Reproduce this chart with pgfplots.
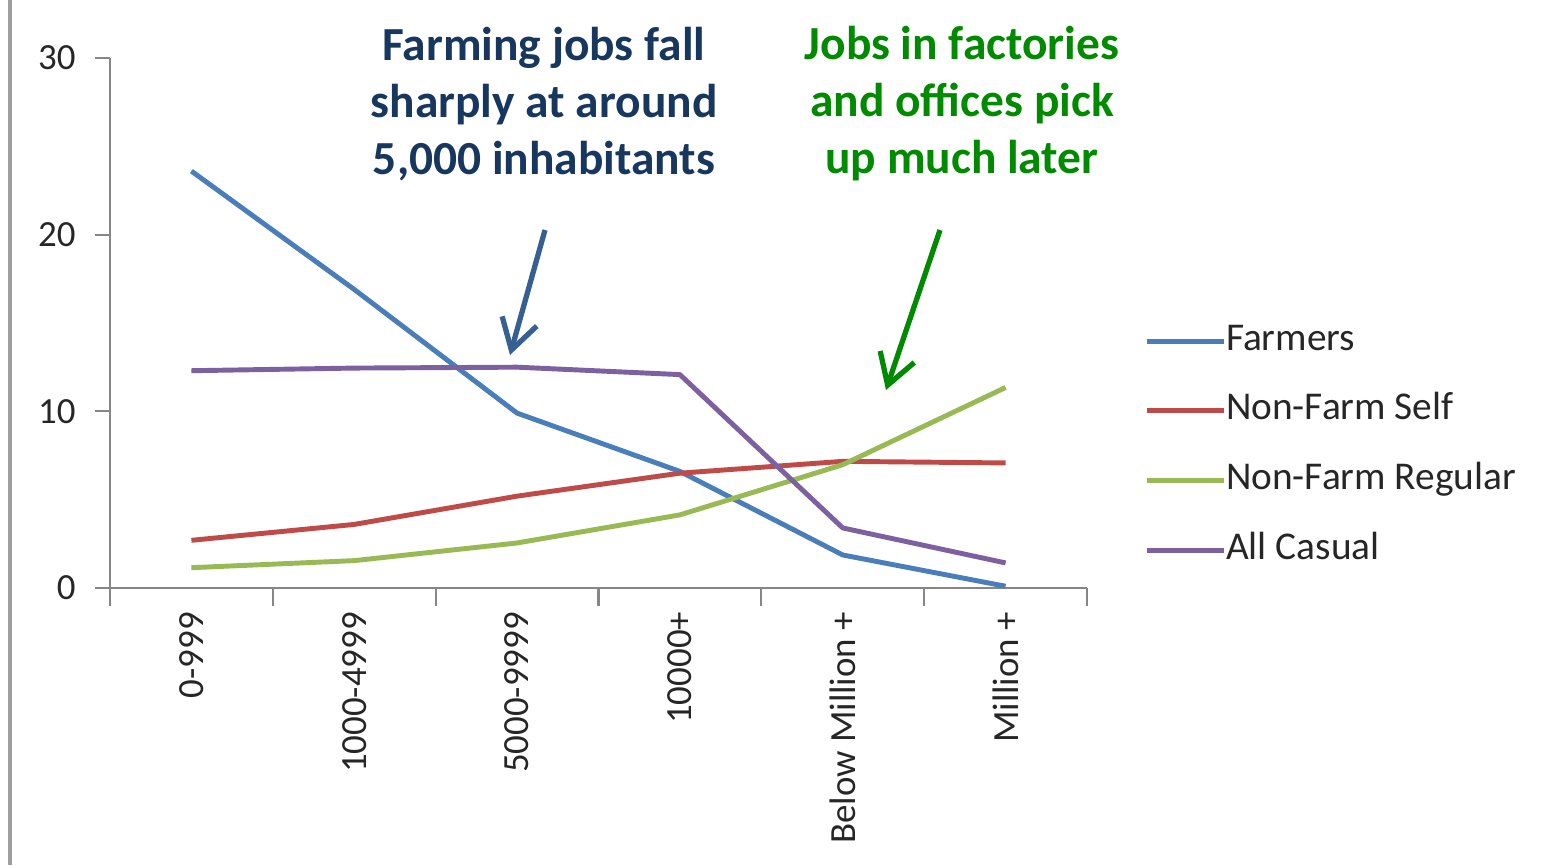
\documentclass[border=0pt]{standalone}
\usepackage{pgfplots}
\pgfplotsset{compat=1.18}
\usepackage{fontspec}
\setmainfont{Carlito}
\usetikzlibrary{arrows.meta}

\definecolor{farmers}{HTML}{4A7EBB}
\definecolor{nfself}{HTML}{BE4B48}
\definecolor{nfreg}{HTML}{98B954}
\definecolor{casual}{HTML}{7D60A0}
\definecolor{navytext}{HTML}{17375E}
\definecolor{arrowblue}{HTML}{376092}
\definecolor{notegreen}{HTML}{008A00}
\definecolor{axisgray}{HTML}{868686}

\begin{document}
\begin{tikzpicture}
\useasboundingbox (0,0) rectangle (15.55,-8.65);
% left border of the slide
\draw[axisgray!80, line width=0.9pt] (0.10,0) -- (0.10,-8.65);

\begin{axis}[
    at={(1.10cm,-5.88cm)}, anchor=south west,
    scale only axis, width=9.77cm, height=5.30cm,
    xmin=-0.5, xmax=5.5, ymin=0, ymax=30,
    axis lines*=left,
    axis line style={axisgray, line width=0.8pt},
    tick align=outside,
    major tick length=0.15cm, minor tick length=0.18cm,
    tick style={axisgray, line width=0.6pt},
    major x tick style={draw=none},
    xtick={0,1,2,3,4,5},
    minor xtick={-0.5,0.5,1.5,2.5,3.5,4.5,5.5},
    xticklabels={0-999,1000-4999,5000-9999,10000+,Below Million +,Million +},
    ytick={0,10,20,30},
    tick label style={font=\fontsize{10.5}{12}\selectfont, text=black!85},
    yticklabel style={xshift=-2pt},
    xticklabel style={rotate=90, anchor=east, xshift=1pt},
    /pgf/number format/assume math mode=true,
    legend cell align=left,
    legend image code/.code={\draw[#1, line width=1.4pt] (0cm,0cm) -- (0.77cm,0cm);},
    legend style={draw=none, fill=none, at={(1.047,0.2685)}, anchor=west,
        font=\fontsize{11.2}{13}\selectfont, text=black!85,
        row sep=9.3pt,
        nodes={inner sep=0pt, text height=7.8pt, text depth=2.7pt},
        /tikz/every even column/.append style={column sep=0.05cm}},
    every axis plot/.append style={line width=1.4pt, line join=round},
]
% Farmers
\addplot[farmers] coordinates {(0,23.6) (1,16.9) (2,9.9) (3,6.6) (4,1.87) (5,0.1)};
% Non-Farm Self
\addplot[nfself] coordinates {(0,2.7) (1,3.6) (2,5.2) (3,6.5) (4,7.17) (5,7.08)};
% Non-Farm Regular
\addplot[nfreg] coordinates {(0,1.15) (1,1.55) (2,2.55) (3,4.14) (4,6.98) (5,11.35)};
% All Casual
\addplot[casual] coordinates {(0,12.3) (1,12.45) (2,12.5) (3,12.08) (4,3.4) (5,1.42)};
\legend{Farmers, Non-Farm Self, Non-Farm Regular, All Casual}
\end{axis}

% annotations
\node[align=center, text=navytext, font=\bfseries\fontsize{13.5}{16.2}\selectfont]
    at (5.44,-1.04) {Farming jobs fall\\sharply at around\\5,000 inhabitants};
\node[align=center, text=notegreen, font=\bfseries\fontsize{13.5}{16.2}\selectfont]
    at (9.62,-1.04) {Jobs in factories\\and offices pick\\up much later};
\draw[arrowblue, line width=1.5pt, -{Straight Barb[length=3mm, width=3.6mm]}]
    (5.45,-2.30) -- (5.10,-3.55);
\draw[notegreen, line width=1.5pt, -{Straight Barb[length=3mm, width=3.6mm]}]
    (9.40,-2.30) -- (8.86,-3.90);
\end{tikzpicture}
\end{document}
